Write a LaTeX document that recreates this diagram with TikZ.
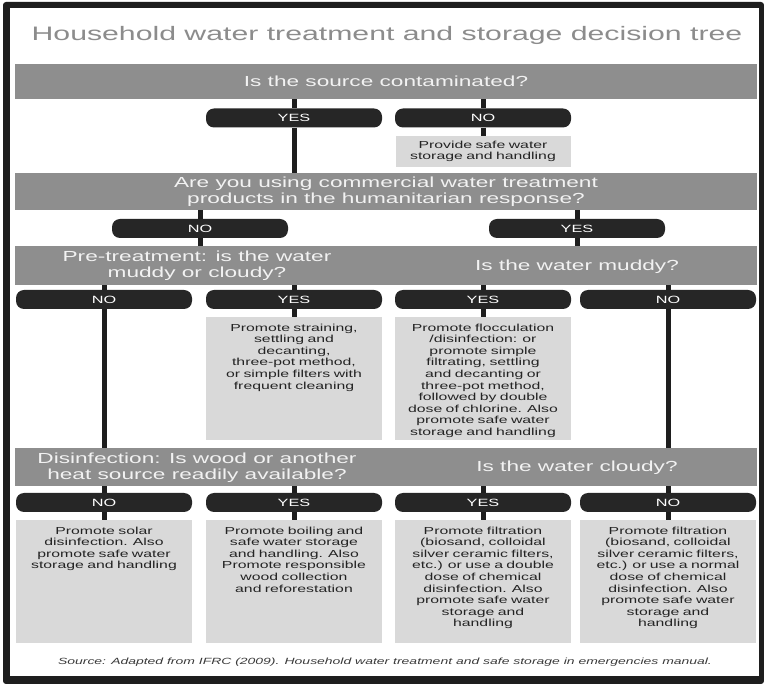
\documentclass[tikz,border=0pt]{standalone}
\usepackage{fontspec}
\setmainfont{Liberation Sans}[FakeStretch=1.55]
\usepackage{tikz}
\usetikzlibrary{positioning}
\definecolor{framegray}{HTML}{1E1E1E}
\definecolor{titlegray}{HTML}{8C8C8C}
\definecolor{bargray}{HTML}{8E8E8E}
\definecolor{bartext}{HTML}{F2F2F2}
\definecolor{pillgray}{HTML}{262626}
\definecolor{boxgray}{HTML}{D9D9D9}
\definecolor{boxtext}{HTML}{242424}
\definecolor{srcgray}{HTML}{3A3A3A}

\begin{document}
\begin{tikzpicture}[x=1pt,y=-1pt,
  question/.style={fill=bargray,minimum width=742pt,inner sep=0pt,text=bartext,
    align=center,font=\fontsize{14.6}{16}\selectfont},
  qtext/.style={inner sep=0pt,text=bartext,align=center,font=\fontsize{14.6}{15.5}\selectfont},
  answer/.style={fill=pillgray,rounded corners=8pt,minimum width=176pt,minimum height=19pt,
    inner sep=0pt,text=white,font=\fontsize{10.5}{12}\selectfont},
  advice/.style={fill=boxgray,text=boxtext,text width=166pt,align=center,inner sep=5pt,
    font=\fontsize{10.2}{11.6}\selectfont},
  tall/.style={anchor=north,text height=9pt,text depth=103.5pt},
  link/.style={draw=framegray,line width=5pt}]
\useasboundingbox (0,0) rectangle (764,684);
\fill[white] (0,0) rectangle (764,684);
% frame
\fill[framegray,rounded corners=3pt] (3,2) rectangle (764,684);
\fill[white] (10,8) rectangle (759,676);

\node[text=titlegray,font=\fontsize{19.5}{22}\selectfont] (title) at (387,35)
  {Household water treatment and storage decision tree};

% question 1
\node[question,minimum height=35pt] (q1) at (386,81.5) {Is the source contaminated?};
\node[answer] (y1) at (294,118) {YES};
\node[answer] (n1) at (483,118) {NO};
\node[advice,text width=165pt,minimum height=29pt] (a1) at (483,151.5)
  {Provide safe water\\storage and handling};

% question 2
\node[question,minimum height=37pt] (q2) at (386,191.5)
  {Are you using commercial water treatment\\products in the humanitarian response?};
\node[answer] (n2) at (200,228.5) {NO};
\node[answer] (y2) at (577,228.5) {YES};

% question 3
\node[question,minimum height=39pt] (q3) at (386,265.5) {};
\node[qtext] (q3l) at (197,265.5) {Pre-treatment: is the water\\muddy or cloudy?};
\node[qtext] (q3r) at (577,267) {Is the water muddy?};
\node[answer] (n3a) at (104,299.5) {NO};
\node[answer] (y3b) at (294,299.5) {YES};
\node[answer] (y3c) at (483,299.5) {YES};
\node[answer] (n3d) at (668,299.5) {NO};
\node[advice,tall] (a3b) at (294,317)
  {Promote straining,\\settling and\\decanting,\\three-pot method,\\or simple filters with\\frequent cleaning};
\node[advice,tall] (a3c) at (483,317)
  {Promote flocculation\\/disinfection: or\\promote simple\\filtrating, settling\\and decanting or\\three-pot method,\\followed by double\\dose of chlorine. Also\\promote safe water\\storage and handling};

% question 4
\node[question,minimum height=38pt] (q4) at (386,467) {};
\node[qtext] (q4l) at (197,467.5) {Disinfection: Is wood or another\\heat source readily available?};
\node[qtext] (q4r) at (577,468) {Is the water cloudy?};
\node[answer] (n4a) at (104,502.5) {NO};
\node[answer] (y4b) at (294,502.5) {YES};
\node[answer] (y4c) at (483,502.5) {YES};
\node[answer] (n4d) at (668,502.5) {NO};
\node[advice,tall] (a4a) at (104,520)
  {Promote solar\\disinfection. Also\\promote safe water\\storage and handling};
\node[advice,tall] (a4b) at (294,520)
  {Promote boiling and\\safe water storage\\and handling. Also\\Promote responsible\\wood collection\\and reforestation};
\node[advice,tall] (a4c) at (483,520)
  {Promote filtration\\(biosand, colloidal\\silver ceramic filters,\\etc.) or use a double\\dose of chemical\\disinfection. Also\\promote safe water\\storage and\\handling};
\node[advice,tall] (a4d) at (668,520)
  {Promote filtration\\(biosand, colloidal\\silver ceramic filters,\\etc.) or use a normal\\dose of chemical\\disinfection. Also\\promote safe water\\storage and\\handling};

\node[text=srcgray,font=\fontsize{9}{11}\selectfont\itshape] (src) at (385,662)
  {Source: Adapted from IFRC (2009). Household water treatment and safe storage in emergencies manual.};

% connectors
\draw[link] (q1.south -| y1) -- (y1.north);
\draw[link] (y1.south) -- (q2.north -| y1);
\draw[link] (q1.south -| n1) -- (n1.north);
\draw[link] (n1.south) -- (a1.north);
\foreach \p in {n2,y2}{
  \draw[link] (q2.south -| \p) -- (\p.north);
  \draw[link] (\p.south) -- (q3.north -| \p);
}
\foreach \p in {n3a,y3b,y3c,n3d}
  \draw[link] (q3.south -| \p) -- (\p.north);
\draw[link] (n3a.south) -- (q4.north -| n3a);
\draw[link] (n3d.south) -- (q4.north -| n3d);
\draw[link] (y3b.south) -- (a3b.north);
\draw[link] (y3c.south) -- (a3c.north);
\foreach \p/\a in {n4a/a4a,y4b/a4b,y4c/a4c,n4d/a4d}{
  \draw[link] (q4.south -| \p) -- (\p.north);
  \draw[link] (\p.south) -- (\a.north);
}
\end{tikzpicture}
\end{document}
